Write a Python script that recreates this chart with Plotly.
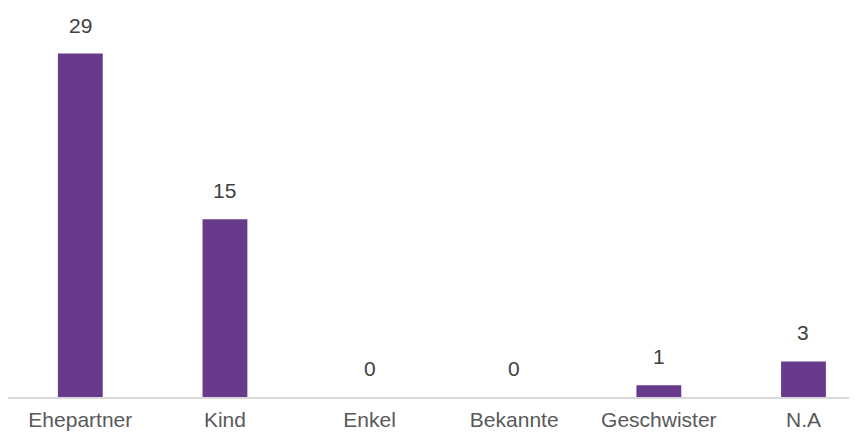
import plotly.graph_objects as go

categories = ["Ehepartner", "Kind", "Enkel", "Bekannte", "Geschwister", "N.A"]
values = [29, 15, 0, 0, 1, 3]

fig = go.Figure()
fig.add_trace(go.Bar(
    x=list(range(len(categories))),
    y=values,
    width=0.31,
    marker=dict(color="#673a8c", line=dict(width=0)),
    hoverinfo="skip",
))

for i, v in enumerate(values):
    fig.add_annotation(
        x=i, y=v, text=str(v), showarrow=False,
        yanchor="bottom", yshift=15,
        font=dict(family="Liberation Sans, Arial, sans-serif", size=21, color="#404040"),
    )

fig.update_layout(
    width=857, height=437,
    margin=dict(l=0, r=8, t=0, b=48, autoexpand=False),
    paper_bgcolor="white", plot_bgcolor="white",
    showlegend=False,
    xaxis=dict(
        range=[-0.5, 5.37],
        tickmode="array",
        tickvals=list(range(len(categories))),
        ticktext=categories,
        showgrid=False, zeroline=False,
        showline=True, linecolor="#d9d9d9", linewidth=1.5,
        ticks="", ticklabelstandoff=3,
        tickfont=dict(family="Liberation Sans, Arial, sans-serif", size=21, color="#595959"),
    ),
    yaxis=dict(
        range=[0, 32.85], visible=False, showgrid=False, zeroline=False,
    ),
)

fig.write_html("out.html")
